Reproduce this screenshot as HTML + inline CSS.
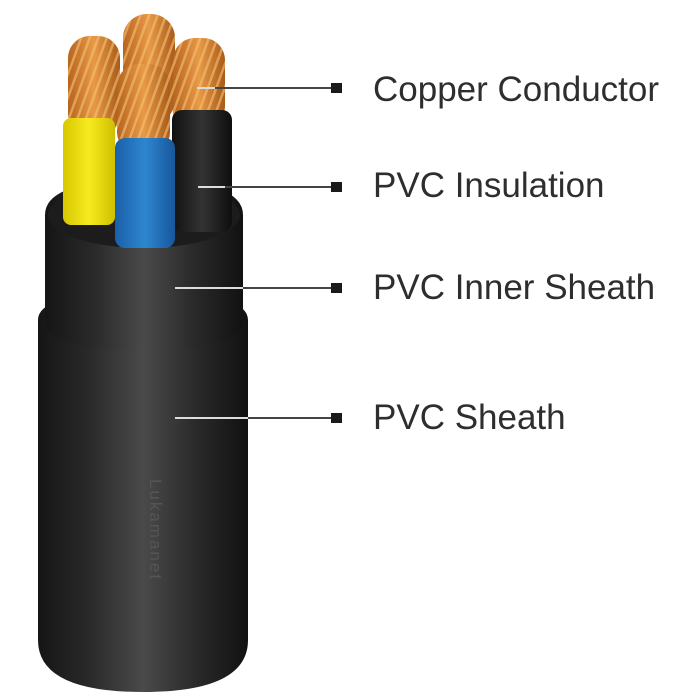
<!DOCTYPE html>
<html><head><style>
body{margin:0;background:#fff;width:700px;height:700px;overflow:hidden}
.t{position:absolute;left:373px;font-family:"Liberation Sans",sans-serif;font-size:35px;color:#2e2e2e;white-space:nowrap}
</style></head><body>
<svg width="700" height="700" style="position:absolute;left:0;top:0">
<defs>
<linearGradient id="blk" x1="0" x2="1">
<stop offset="0" stop-color="#151515"/><stop offset="0.25" stop-color="#2a2a2a"/><stop offset="0.5" stop-color="#4a4a4a"/><stop offset="0.75" stop-color="#2a2a2a"/><stop offset="1" stop-color="#111"/>
</linearGradient>
<linearGradient id="cu" x1="0" x2="1">
<stop offset="0" stop-color="#b8641e"/><stop offset="0.5" stop-color="#e89a45"/><stop offset="1" stop-color="#a85a18"/>
</linearGradient>
<pattern id="str" width="8" height="8" patternUnits="userSpaceOnUse" patternTransform="rotate(20)">
<rect width="8" height="8" fill="none"/><rect width="2.5" height="8" fill="#f3c27a" opacity="0.6"/>
</pattern>
<linearGradient id="yel" x1="0" x2="1"><stop offset="0" stop-color="#d8c800"/><stop offset="0.5" stop-color="#f6ea20"/><stop offset="1" stop-color="#cfc000"/></linearGradient>
<linearGradient id="blu" x1="0" x2="1"><stop offset="0" stop-color="#1a5fa8"/><stop offset="0.5" stop-color="#2e86d0"/><stop offset="1" stop-color="#17579c"/></linearGradient>
<linearGradient id="bk2" x1="0" x2="1"><stop offset="0" stop-color="#111"/><stop offset="0.5" stop-color="#333"/><stop offset="1" stop-color="#0e0e0e"/></linearGradient>
</defs>
<!-- outer sheath -->
<path d="M38 320 Q38 292 143 292 Q248 292 248 320 L248 640 Q248 692 143 692 Q38 692 38 640 Z" fill="url(#blk)"/>
<!-- inner sheath -->
<path d="M45 215 Q45 180 144 180 Q243 180 243 215 L243 320 Q243 350 144 350 Q45 350 45 320 Z" fill="url(#blk)"/>
<ellipse cx="144" cy="215" rx="96" ry="33" fill="#1c1c1c"/>
<!-- copper back -->
<g>
<rect x="123" y="14" width="52" height="110" rx="24" fill="url(#cu)"/><rect x="123" y="14" width="52" height="110" rx="24" fill="url(#str)"/>
<rect x="68" y="36" width="52" height="100" rx="22" fill="url(#cu)"/><rect x="68" y="36" width="52" height="100" rx="22" fill="url(#str)"/>
<rect x="173" y="38" width="52" height="100" rx="22" fill="url(#cu)"/><rect x="173" y="38" width="52" height="100" rx="22" fill="url(#str)"/>
</g>
<!-- insulations -->
<rect x="63" y="118" width="52" height="107" rx="8" fill="url(#yel)"/>
<rect x="172" y="110" width="60" height="122" rx="10" fill="url(#bk2)"/>
<rect x="117" y="64" width="53" height="90" rx="22" fill="url(#cu)"/><rect x="117" y="64" width="53" height="90" rx="22" fill="url(#str)"/>
<rect x="115" y="138" width="60" height="110" rx="10" fill="url(#blu)"/>
<!-- leader lines -->
<g stroke="#444" stroke-width="2">
<line x1="205" y1="88" x2="334" y2="88"/>
<line x1="200" y1="187" x2="334" y2="187"/>
<line x1="175" y1="288" x2="334" y2="288"/>
<line x1="175" y1="418" x2="334" y2="418"/>
</g>
<g stroke="#ddd" stroke-width="2">
<line x1="197" y1="88" x2="215" y2="88"/>
<line x1="198" y1="187" x2="225" y2="187"/>
<line x1="175" y1="288" x2="243" y2="288"/>
<line x1="175" y1="418" x2="248" y2="418"/>
</g>
<g fill="#1a1a1a">
<rect x="331" y="83" width="11" height="10"/>
<rect x="331" y="182" width="11" height="10"/>
<rect x="331" y="283" width="11" height="10"/>
<rect x="331" y="413" width="11" height="10"/>
</g>
<text x="150" y="530" transform="rotate(90 150 530)" font-family="Liberation Sans" font-size="17" fill="#555" text-anchor="middle" letter-spacing="2">Lukamanet</text>
</svg>
<div class="t" style="top:70px">Copper Conductor</div>
<div class="t" style="top:166px">PVC Insulation</div>
<div class="t" style="top:268px">PVC Inner Sheath</div>
<div class="t" style="top:398px">PVC Sheath</div>
</body></html>
